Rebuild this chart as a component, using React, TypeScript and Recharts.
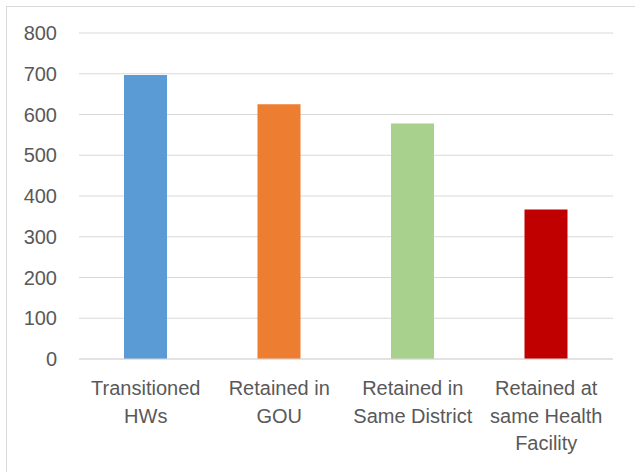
import React from "react";
import { BarChart, Bar, XAxis, YAxis, CartesianGrid, Cell } from "recharts";

const categories = [
  "Transitioned HWs",
  "Retained in GOU",
  "Retained in Same District",
  "Retained at same Health Facility",
];
const labelLines = [
  ["Transitioned", "HWs"],
  ["Retained in", "GOU"],
  ["Retained in", "Same District"],
  ["Retained at", "same Health", "Facility"],
];
const values = [697, 625, 578, 367];
const barColors = ["#5B9BD5", "#ED7D31", "#A9D18E", "#C00000"];
const yTicks = [0, 100, 200, 300, 400, 500, 600, 700, 800];

const data = categories.map((c, i) => ({ name: c, value: values[i] }));

const FONT = "'Liberation Sans', Arial, sans-serif";
const TEXT_COLOR = "#595959";

const CategoryTick = (props: any) => {
  const { x, y, index } = props;
  const lines = labelLines[index] || [];
  return (
    <text x={x} y={y} textAnchor="middle" fill={TEXT_COLOR} fontFamily={FONT} fontSize={20}>
      {lines.map((l, i) => (
        <tspan key={i} x={x} dy={i === 0 ? 36 : 27.5}>
          {l}
        </tspan>
      ))}
    </text>
  );
};

export default function App() {
  return (
    <div
      style={{
        position: "absolute",
        left: 0,
        top: 0,
        width: 635,
        height: 472,
        background: "#ffffff",
        overflow: "hidden",
      }}
    >
      <div
        style={{
          position: "absolute",
          left: 6,
          top: 6,
          width: 640,
          height: 480,
          borderLeft: "1px solid #d9d9d9",
          borderTop: "1px solid #d9d9d9",
        }}
      />
      <div style={{ position: "absolute", left: 0, top: 0 }}>
        <BarChart
          width={635}
          height={472}
          data={data}
          margin={{ top: 33, right: 22, left: 0, bottom: 0 }}
          barSize={43}
        >
          <CartesianGrid vertical={false} stroke="#d9d9d9" strokeWidth={1} />
          <XAxis
            dataKey="name"
            height={113}
            interval={0}
            tickLine={false}
            tickSize={0}
            tickMargin={0}
            axisLine={{ stroke: "#d9d9d9", strokeWidth: 1 }}
            tick={<CategoryTick />}
          />
          <YAxis
            width={79}
            domain={[0, 800]}
            ticks={yTicks}
            axisLine={false}
            tickLine={false}
            tickSize={0}
            tickMargin={22}
            tick={{ fill: TEXT_COLOR, fontSize: 20, fontFamily: FONT }}
          />
          <Bar dataKey="value" isAnimationActive={false}>
            {data.map((d, i) => (
              <Cell key={d.name} fill={barColors[i]} />
            ))}
          </Bar>
        </BarChart>
      </div>
    </div>
  );
}
